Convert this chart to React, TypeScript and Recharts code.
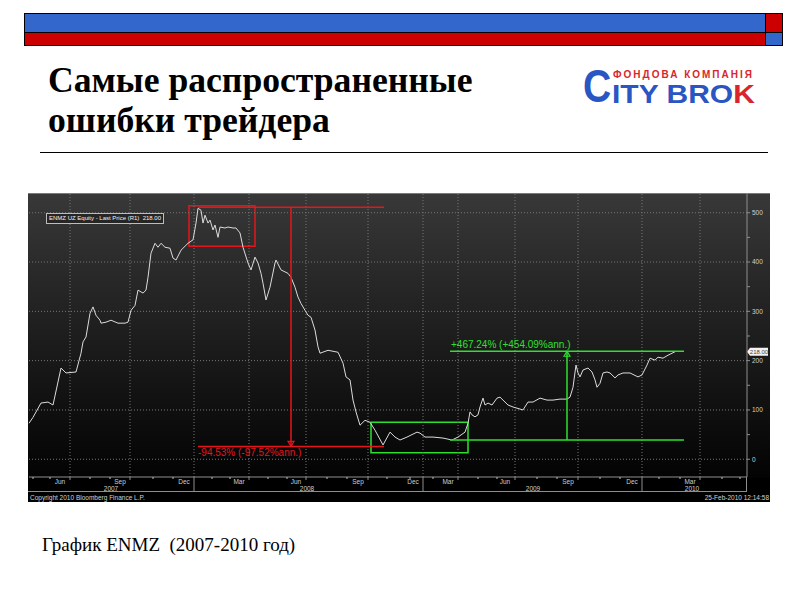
import React from "react";
import {
  LineChart, Line, XAxis, YAxis, ReferenceLine, ReferenceArea, ReferenceDot,
} from "recharts";

// trading-session index (x) and last price (y)
const sessions = [
  0, 4, 12, 19, 24, 32, 37, 47, 52, 54, 57, 61, 64, 67, 71, 72, 77, 82, 89, 96, 99,
  102, 106, 109, 114, 117, 119, 122, 126, 129, 132, 136, 141, 144, 147, 152, 159, 164,
  167, 169, 172, 174, 176, 179, 181, 184, 186, 189, 191, 196, 199, 204, 207, 211, 214,
  219, 222, 226, 229, 232, 234, 237, 241, 246, 247, 252, 259, 262, 266, 269, 272, 276,
  279, 282, 286, 289, 291, 299, 309, 314, 317, 321, 324, 327, 331, 336, 341, 346, 354,
  361, 366, 371, 378, 388, 391, 396, 404, 414, 423, 429, 436, 439, 441, 443, 446, 449,
  451, 454, 456, 459, 463, 468, 471, 474, 479, 484, 489, 494, 499, 504, 511, 518, 524,
  531, 538, 541, 544, 547, 549, 551, 554, 559, 563, 566, 568, 571, 574, 578, 581, 586,
  589, 594, 601, 609, 613, 618, 621, 626, 629, 634, 639, 643, 646,
];
const prices = [
  73, 85, 114, 116, 110, 185, 175, 177, 215, 238, 248, 296, 309, 292, 282, 276, 278, 282, 276, 276, 278,
  302, 312, 343, 337, 343, 369, 418, 438, 430, 438, 430, 428, 408, 404, 424, 438, 445,
  479, 509, 505, 479, 495, 479, 485, 465, 475, 450, 471, 469, 471, 469, 469, 459, 430,
  398, 384, 410, 398, 377, 357, 323, 349, 398, 404, 384, 377, 369, 349, 329, 316, 302,
  292, 288, 262, 228, 215, 221, 217, 195, 167, 161, 120, 96, 69, 79, 75, 59, 29,
  55, 45, 39, 45, 55, 53, 45, 45, 43, 39, 45, 55, 73, 96, 90, 86, 90,
  106, 124, 110, 114, 110, 124, 126, 120, 110, 106, 103, 100, 116, 116, 124, 120, 120,
  122, 122, 126, 146, 191, 175, 167, 181, 185, 177, 161, 146, 154, 175, 177, 175, 165,
  171, 175, 175, 167, 171, 191, 205, 201, 207, 205, 211, 215, 218,
];

const gridSessions = [41, 101, 165, 220, 277, 339, 394, 429, 486, 549, 613, 671];
const monthLabels = ["Jun", "Sep", "Dec", "Mar", "Jun", "Sep", "Dec", "Mar", "Jun", "Sep", "Dec", "Mar"];
const minorSessions = [4, 21, 61, 81, 124, 144, 183, 201, 239, 258, 298, 318, 358, 381, 404, 449, 468, 508, 528, 571, 591, 630, 651, 693, 711];
const yearBreaks = [165, 394, 613];
const yearSessions = [82, 278, 504, 663];
const yearLabels = ["2007", "2008", "2009", "2010"];
const priceTicks = [0, 50, 100, 150, 200, 250, 300, 350, 400, 450, 500];
const priceGrid = [0, 100, 200, 300, 400, 500];
const lastPrice = 218;

// drawdown annotation (red)
const dropBox = [160, 226, 432, 514];
const dropFrom = 169;
const dropTo = 355;
const dropHigh = 511;
const dropLow = 26;
const dropArrow = 262;
const dropText = "-94.53% (-97.52%ann.)";

// recovery annotation (green)
const riseBox = [342, 439, 13, 75];
const riseFrom = 421;
const riseTo = 655;
const riseLow = 39;
const riseHigh = 219;
const riseArrow = 538;
const riseText = "+467.24% (+454.09%ann.)";

const RED = "#e3161b";
const GREEN = "#2ee02e";
const AXIS = "#8e8e8e";
const TXT = "#cfcfcf";
const FONT = "'Liberation Sans', Arial, sans-serif";

const chartData = sessions.map((s, i) => ({ s, price: prices[i] }));
const axisTicks = [...gridSessions, ...minorSessions].sort((a, b) => a - b);

const MonthTick = (props: any) => {
  const { x, y, payload } = props;
  const i = gridSessions.indexOf(payload.value);
  const isBreak = yearBreaks.includes(payload.value);
  if (i < 0) {
    return <line x1={x} x2={x} y1={y} y2={y + 2} stroke="#bdbdbd" />;
  }
  return (
    <g>
      <line x1={x} x2={x} y1={y} y2={y + (isBreak ? 15 : 3)} stroke={AXIS} />
      <text x={x - 10} y={y + 6.5} textAnchor="middle" fontSize={6.5} fill={TXT} fontFamily={FONT}>
        {monthLabels[i]}
      </text>
    </g>
  );
};

const YearTick = (props: any) => {
  const { x, y, payload } = props;
  const i = yearSessions.indexOf(payload.value);
  return (
    <text x={x} y={y + 5.5} textAnchor="middle" fontSize={6.5} fill={TXT} fontFamily={FONT}>
      {yearLabels[i]}
    </text>
  );
};

const PriceTick = (props: any) => {
  const { x, y, payload } = props;
  const v = payload.value;
  return (
    <g>
      <line x1={x} x2={x + 3} y1={y} y2={y} stroke={AXIS} />
      {v % 100 === 0 && (
        <text x={x + 5} y={y + 2.3} fontSize={6.5} fill={TXT} fontFamily={FONT}>{v}</text>
      )}
    </g>
  );
};

const PriceTag = (props: any) => {
  const { viewBox } = props;
  const x = viewBox.x + viewBox.width;
  const y = viewBox.y;
  return (
    <g>
      <polygon points={`${x},${y} ${x + 3},${y - 4} ${x + 21},${y - 4} ${x + 21},${y + 4} ${x + 3},${y + 4}`} fill="#f2f2f2" />
      <text x={x + 12} y={y + 2.3} textAnchor="middle" fontSize={6} fill="#444" fontFamily={FONT}>
        {lastPrice.toFixed(2)}
      </text>
    </g>
  );
};

const ArrowDown = (props: any) => {
  const { cx, cy } = props;
  return <polygon points={`${cx},${cy} ${cx - 3},${cy - 5} ${cx + 3},${cy - 5}`} fill="none" stroke={RED} strokeWidth={1.2} />;
};

const ArrowUp = (props: any) => {
  const { cx, cy } = props;
  return <polygon points={`${cx},${cy} ${cx - 3},${cy + 5} ${cx + 3},${cy + 5}`} fill="none" stroke={GREEN} strokeWidth={1.2} />;
};

const DropLabel = (props: any) => {
  const { viewBox } = props;
  return (
    <text x={viewBox.x} y={viewBox.y + 10} fontSize={10} fill={RED} fontFamily={FONT}>{dropText}</text>
  );
};

const RiseLabel = (props: any) => {
  const { viewBox } = props;
  return (
    <text x={viewBox.x + 1} y={viewBox.y - 3} fontSize={10} fill={GREEN} fontFamily={FONT}>{riseText}</text>
  );
};

const App = () => {
  return (
    <div style={{ position: "absolute", left: 0, top: 0, width: 800, height: 600, background: "#fff", overflow: "hidden" }}>
      {/* top bars */}
      <div style={{ position: "absolute", left: 24, top: 13, width: 742, height: 20, background: "#3467cb", border: "1px solid #000", boxSizing: "border-box" }} />
      <div style={{ position: "absolute", left: 24, top: 32, width: 742, height: 14, background: "#cc0000", border: "1px solid #000", boxSizing: "border-box" }} />
      <div style={{ position: "absolute", left: 765, top: 13, width: 18, height: 20, background: "#cc0000", border: "1px solid #000", boxSizing: "border-box" }} />
      <div style={{ position: "absolute", left: 765, top: 32, width: 18, height: 14, background: "#3467cb", border: "1px solid #000", boxSizing: "border-box" }} />

      {/* title */}
      <div style={{ position: "absolute", left: 48, top: 60, fontFamily: "'Liberation Serif', 'Times New Roman', serif", fontWeight: "bold", fontSize: 36, lineHeight: "40px", color: "#000", transform: "scaleX(0.99)", transformOrigin: "left" }}>
        Самые распространенные<br />ошибки трейдера
      </div>

      {/* logo */}
      <div style={{ position: "absolute", left: 583, top: 66, width: 180, height: 42, fontFamily: FONT, fontWeight: "bold" }}>
        <div style={{ position: "absolute", left: 30, top: 3, fontSize: 10, color: "#d8262c", letterSpacing: 2, whiteSpace: "nowrap" }}>ФОНДОВА КОМПАНІЯ</div>
        <div style={{ position: "absolute", left: 0, top: -3, fontSize: 46, lineHeight: "46px", color: "#2a56c4", transform: "scaleX(0.85)", transformOrigin: "left" }}>C</div>
        <div style={{ position: "absolute", left: 29, top: 16, fontSize: 25, lineHeight: "25px", color: "#2a56c4", whiteSpace: "nowrap", transform: "scaleX(1.2)", transformOrigin: "left" }}>
          ITY BRO<span style={{ color: "#d8262c" }}>K</span>
        </div>
      </div>

      {/* rule */}
      <div style={{ position: "absolute", left: 40, top: 152, width: 728, height: 1, background: "#000" }} />

      {/* chart panel */}
      <div style={{ position: "absolute", left: 28, top: 193, width: 742, height: 309, background: "#000" }}>
        <div style={{ position: "absolute", left: 0, top: 0, width: 742, height: 285, background: "linear-gradient(to bottom, #383838 0%, #1d1d1d 50%, #030303 100%)", borderTop: "1px solid #7a7a7a", boxSizing: "border-box" }} />
        <div style={{ position: "absolute", left: 0, top: 0 }}>
          <LineChart width={742} height={299} data={chartData} margin={{ top: 0, right: 0, bottom: 0, left: 1 }}>
            <XAxis
              xAxisId="m" dataKey="s" type="number" domain={[0, 718]} ticks={axisTicks} interval={0}
              height={8} axisLine={{ stroke: AXIS }} tickLine={false} tickSize={0} tickMargin={0} tick={MonthTick}
            />
            <XAxis
              xAxisId="yr" dataKey="s" type="number" domain={[0, 718]} ticks={yearSessions} interval={0}
              height={7} axisLine={false} tickLine={false} tickSize={0} tickMargin={0} tick={YearTick}
            />
            <YAxis
              orientation="right" width={23} domain={[-36, 540]} ticks={priceTicks} interval={0}
              axisLine={{ stroke: AXIS }} tickLine={false} tickSize={0} tickMargin={0} tick={PriceTick}
            />
            {priceGrid.map((v) => (
              <ReferenceLine key={`h${v}`} xAxisId="m" y={v} stroke="#777" strokeDasharray="1 2" />
            ))}
            {gridSessions.map((s) => (
              <ReferenceLine key={`v${s}`} xAxisId="m" x={s} stroke="#777" strokeDasharray="1 2" />
            ))}
            <Line xAxisId="m" dataKey="price" type="linear" stroke="#dcdcdc" strokeWidth={1} dot={false} isAnimationActive={false} />

            <ReferenceArea xAxisId="m" x1={dropBox[0]} x2={dropBox[1]} y1={dropBox[2]} y2={dropBox[3]} fill="none" stroke={RED} strokeWidth={1.5} fillOpacity={0} />
            <ReferenceLine xAxisId="m" segment={[{ x: dropFrom, y: dropHigh }, { x: dropTo, y: dropHigh }]} stroke={RED} strokeWidth={1.5} />
            <ReferenceLine xAxisId="m" segment={[{ x: dropArrow, y: dropHigh }, { x: dropArrow, y: dropLow }]} stroke={RED} strokeWidth={1.5} />
            <ReferenceLine xAxisId="m" segment={[{ x: dropFrom, y: dropLow }, { x: dropTo, y: dropLow }]} stroke={RED} strokeWidth={1.5} label={DropLabel} />
            <ReferenceDot xAxisId="m" x={dropArrow} y={dropLow} shape={ArrowDown} />

            <ReferenceArea xAxisId="m" x1={riseBox[0]} x2={riseBox[1]} y1={riseBox[2]} y2={riseBox[3]} fill="none" stroke={GREEN} strokeWidth={1.5} fillOpacity={0} />
            <ReferenceLine xAxisId="m" segment={[{ x: riseFrom, y: riseLow }, { x: riseTo, y: riseLow }]} stroke={GREEN} strokeWidth={1.5} />
            <ReferenceLine xAxisId="m" segment={[{ x: riseArrow, y: riseLow }, { x: riseArrow, y: riseHigh }]} stroke={GREEN} strokeWidth={1.5} />
            <ReferenceLine xAxisId="m" segment={[{ x: riseFrom, y: riseHigh }, { x: riseTo, y: riseHigh }]} stroke={GREEN} strokeWidth={1.5} label={RiseLabel} />
            <ReferenceDot xAxisId="m" x={riseArrow} y={riseHigh} shape={ArrowUp} />

            <ReferenceLine xAxisId="m" y={lastPrice} stroke="none" label={PriceTag} />
          </LineChart>
        </div>
        {/* axis band lines */}
        <div style={{ position: "absolute", left: 0, top: 298, width: 719, height: 1, background: AXIS }} />
        <div style={{ position: "absolute", left: 718, top: 284, width: 1, height: 15, background: AXIS }} />
        {/* legend */}
        <div style={{ position: "absolute", left: 18, top: 20, height: 9, padding: "0 2px", border: "1px solid #bdbdbd", background: "#262626", color: "#f0f0f0", fontFamily: FONT, fontSize: 6, lineHeight: "9px", whiteSpace: "pre" }}>
          {"ENMZ UZ Equity - Last Price (R1)  218.00"}
        </div>
        {/* footer */}
        <div style={{ position: "absolute", left: 2, top: 300, color: "#d0d0d0", fontFamily: FONT, fontSize: 6.5, lineHeight: "9px" }}>Copyright 2010 Bloomberg Finance L.P.</div>
        <div style={{ position: "absolute", right: 1, top: 300, color: "#d0d0d0", fontFamily: FONT, fontSize: 6.5, lineHeight: "9px" }}>25-Feb-2010 12:14:58</div>
      </div>

      {/* caption */}
      <div style={{ position: "absolute", left: 42, top: 534, fontFamily: "'Liberation Serif', 'Times New Roman', serif", fontSize: 19, color: "#000", whiteSpace: "pre" }}>
        {"График ENMZ  (2007-2010 год)"}
      </div>
    </div>
  );
};

export default App;
